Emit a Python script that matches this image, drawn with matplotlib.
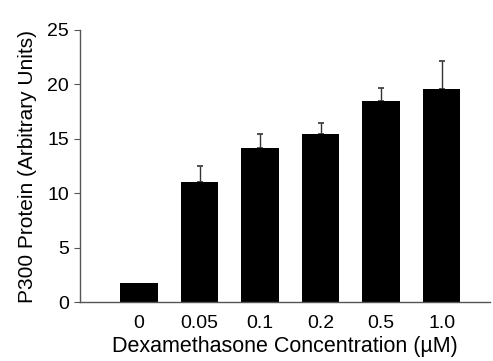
import matplotlib
matplotlib.use('Agg')
import matplotlib.pyplot as plt

plt.rcParams['font.family'] = ['Liberation Sans', 'DejaVu Sans']

# concentrations (uM) and mean P300 levels
labels = ['0', '0.05', '0.1', '0.2', '0.5', '1.0']
means = [1.75, 11.0, 14.2, 15.4, 18.5, 19.55]
errs = [0, 1.5, 1.2, 1.1, 1.2, 2.6]

fig = plt.figure(figsize=(4.93, 3.61), dpi=100)
ax = fig.add_axes([0.162, 0.163, 0.832, 0.754])

x = list(range(len(labels)))
ax.bar(x, means, width=0.62, color='black', zorder=2)
# only bars with a visible SD get an error bar
ex = [i for i in x if errs[i] > 0]
ax.errorbar(ex, [means[i] for i in ex],
            yerr=[[0] * len(ex), [errs[i] for i in ex]], fmt='none',
            ecolor='#333333', elinewidth=1, capsize=2.5, capthick=1.2, zorder=1)

ax.set_xlim(-0.98, 5.8)
ax.set_ylim(0, 25)
ax.set_yticks([0, 5, 10, 15, 20, 25])
ax.set_xticks(x)
ax.set_xticklabels(labels)

for side in ['top', 'right']:
    ax.spines[side].set_visible(False)
for side in ['left', 'bottom']:
    ax.spines[side].set_color('#555555')
    ax.spines[side].set_linewidth(1)

ax.tick_params(axis='y', length=4, color='#555555', labelsize=14, pad=4)
ax.tick_params(axis='x', length=0, labelsize=14, pad=9)

ax.set_ylabel('P300 Protein (Arbitrary Units)', fontsize=15, labelpad=7)
ax.set_xlabel('Dexamethasone Concentration (\u00b5M)', fontsize=15.5, labelpad=3)

fig.savefig('out.png', dpi=100)
